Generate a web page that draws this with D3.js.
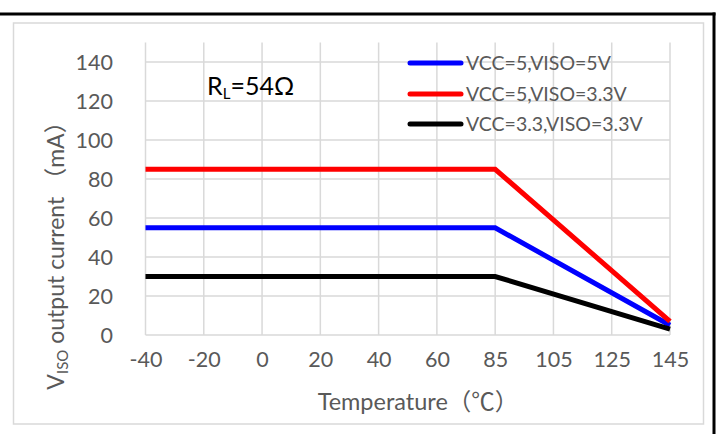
<!DOCTYPE html>
<html><head><meta charset="utf-8">
<script src="https://cdn.jsdelivr.net/npm/d3@7"></script>
<style>
html,body{margin:0;padding:0;background:#fff;}
text{font-family:Lato,"Noto Sans CJK SC",sans-serif;}
</style></head>
<body><svg id="c" width="717" height="434"></svg>
<script>
const categories = ["-40","-20","0","20","40","60","85","105","125","145"];
const seriesNames = ["VCC=5,VISO=5V","VCC=5,VISO=3.3V","VCC=3.3,VISO=3.3V"];
const seriesColors = ["#0000ff","#ff0000","#000000"];
const blueValues  = [55,55,55,55,55,55,55,null,null,5];
const redValues   = [85,85,85,85,85,85,85,null,null,7];
const blackValues = [30,30,30,30,30,30,30,null,null,3];
const yTicks = [0,20,40,60,80,100,120,140];

const seriesValues = [blueValues, redValues, blackValues];
const svg = d3.select("#c");

// outer decorations
svg.append("line").attr("x1",0).attr("x2",715.5).attr("y1",14).attr("y2",14)
  .attr("stroke","#000").attr("stroke-width",3);
svg.append("line").attr("x1",714).attr("x2",714).attr("y1",12.5).attr("y2",434)
  .attr("stroke","#000").attr("stroke-width",3);
svg.append("rect").attr("x",13.5).attr("y",23).attr("width",690).attr("height",401)
  .attr("fill","none").attr("stroke","#d9d9d9").attr("stroke-width",1.5);

const x = d3.scalePoint().domain(categories).range([145.5,670]);
const y = d3.scaleLinear().domain([0,150]).range([335,42.5]);

const g = svg.append("g");
// gridlines
g.selectAll(".hg").data(yTicks).join("line")
  .attr("x1",x.range()[0]).attr("x2",x.range()[1])
  .attr("y1",d=>y(d)).attr("y2",d=>y(d))
  .attr("stroke","#d9d9d9").attr("stroke-width",1.5);
g.selectAll(".vg").data(categories).join("line")
  .attr("x1",d=>x(d)).attr("x2",d=>x(d))
  .attr("y1",y(150)).attr("y2",y(0))
  .attr("stroke","#d9d9d9").attr("stroke-width",1.5);

// axes
const yAxis = d3.axisLeft(y).tickValues(yTicks).tickSize(0).tickPadding(0);
const ya = svg.append("g").attr("transform","translate(113,0)").call(yAxis);
ya.select(".domain").remove();
ya.selectAll("text").attr("font-size",21.5).attr("fill","#595959").attr("dy","0.35em")
  .style("font-family",'Lato,"Noto Sans CJK SC",sans-serif');

const xAxis = d3.axisBottom(x).tickSize(0).tickPadding(0);
const xa = svg.append("g").attr("transform","translate(0,352)").call(xAxis);
xa.select(".domain").remove();
xa.selectAll("text").attr("font-size",21.5).attr("fill","#595959").attr("dy","0.71em")
  .style("font-family",'Lato,"Noto Sans CJK SC",sans-serif');

// series lines
const line = d3.line().x(d=>x(d.c)).y(d=>y(d.v));
seriesValues.forEach((vals,i)=>{
  const pts = categories.map((c,j)=>({c, v: vals[j]})).filter(d=>d.v!=null);
  svg.append("path").datum(pts).attr("d",line)
    .attr("fill","none").attr("stroke",seriesColors[i]).attr("stroke-width",5);
});

// legend
const legY = [63,94,124];
seriesNames.forEach((n,i)=>{
  svg.append("line").attr("x1",410).attr("x2",461).attr("y1",legY[i]).attr("y2",legY[i])
    .attr("stroke",seriesColors[i]).attr("stroke-width",5).attr("stroke-linecap","round");
  svg.append("text").attr("x",466).attr("y",legY[i]).attr("dy","0.35em")
    .attr("font-size",19.5).attr("fill","#595959").text(n);
});

// annotation
const ann = svg.append("text").attr("x",207).attr("y",95).attr("font-size",25).attr("fill","#000");
ann.append("tspan").text("R");
ann.append("tspan").attr("font-size",15).attr("dy",4).text("L");
ann.append("tspan").attr("dy",-4).text("=54Ω");

// axis titles
svg.append("text").attr("x",418).attr("y",410).attr("text-anchor","middle")
  .attr("font-size",23.5).attr("fill","#595959").text("Temperature（℃）");
const yt = svg.append("text").attr("transform","translate(64,250) rotate(-90)")
  .attr("text-anchor","middle").attr("font-size",23).attr("fill","#595959");
yt.append("tspan").text("V");
yt.append("tspan").attr("font-size",15).attr("dy",4).text("ISO");
yt.append("tspan").attr("dy",-4).text(" output current （mA）");
</script></body></html>
